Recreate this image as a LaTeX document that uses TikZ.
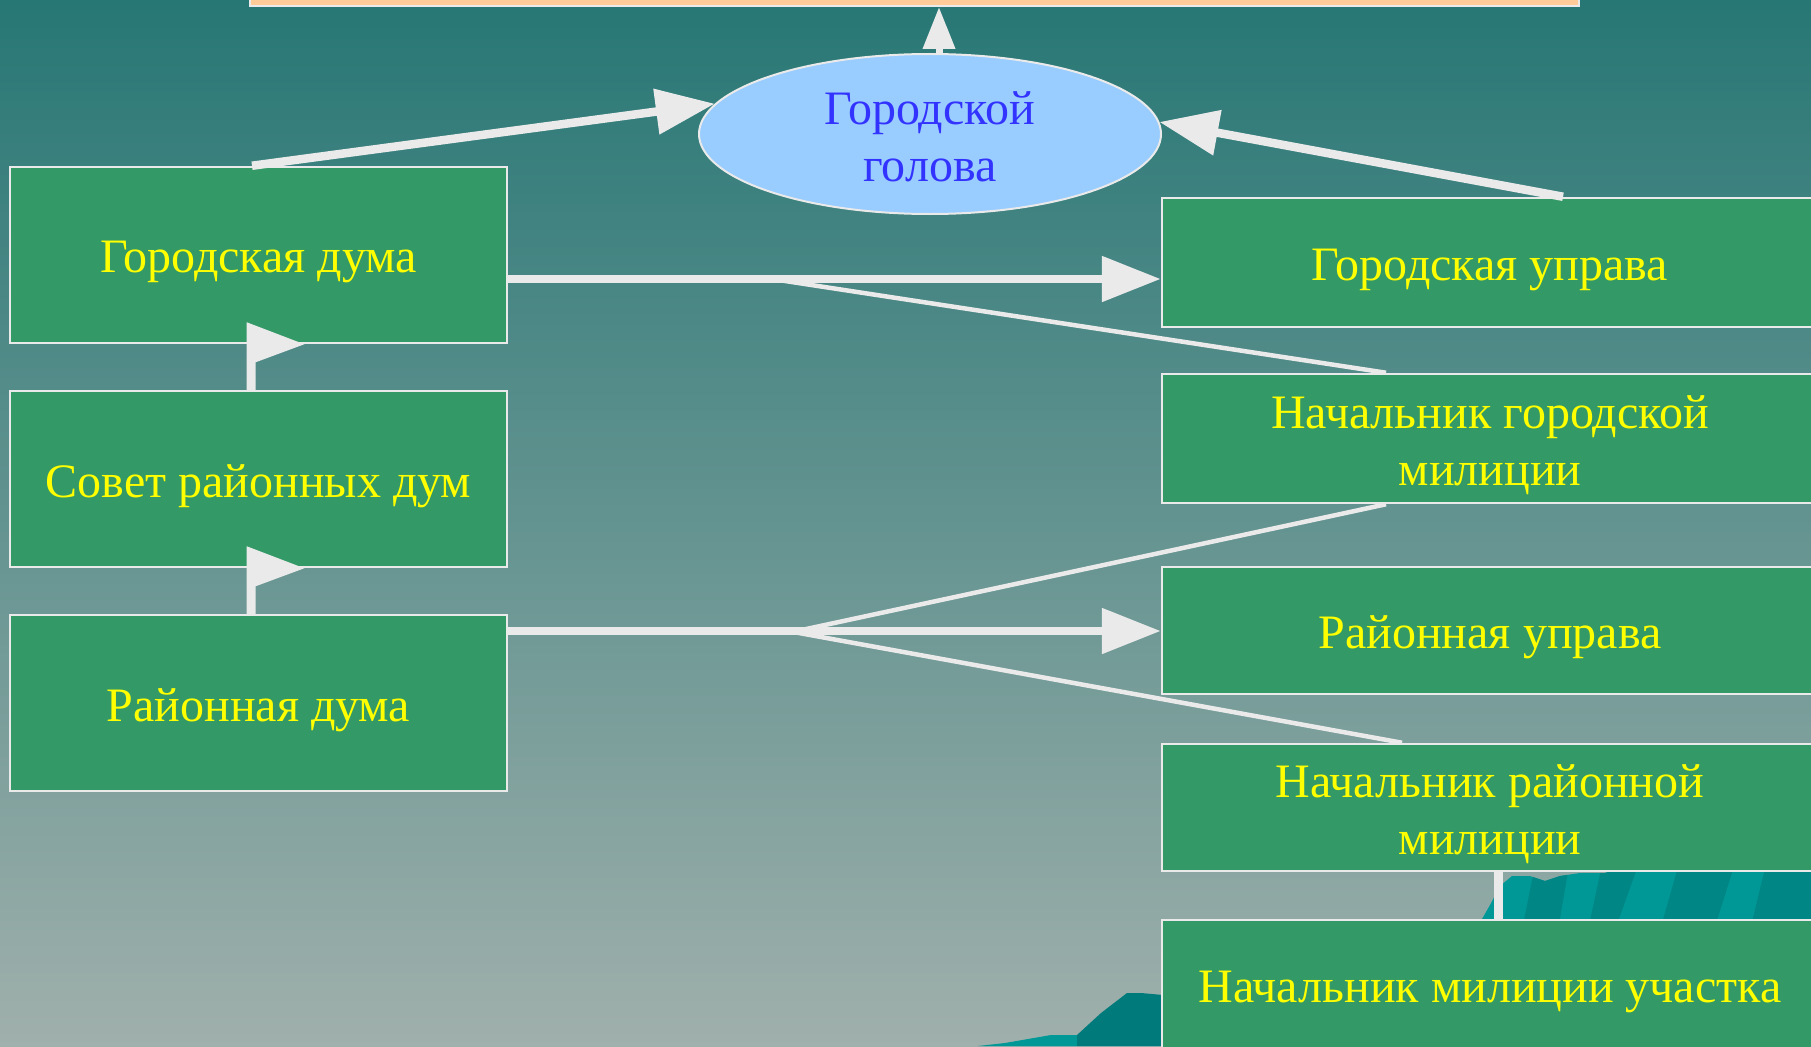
\documentclass[tikz,border=0pt]{standalone}
\usepackage{fontspec}
\setmainfont{Liberation Serif}
\usetikzlibrary{arrows.meta,calc,shapes.geometric}
\definecolor{bgtop}{RGB}{39,119,117}
\definecolor{bgbot}{RGB}{160,176,172}
\definecolor{boxgreen}{RGB}{51,153,102}
\definecolor{linegray}{RGB}{234,234,234}
\definecolor{skyblue}{RGB}{153,204,255}
\definecolor{headblue}{RGB}{51,51,255}
\definecolor{peach}{RGB}{255,204,153}
\definecolor{txtyellow}{RGB}{255,255,0}
\definecolor{teallight}{RGB}{0,152,150}
\definecolor{tealdark}{RGB}{0,134,132}
\definecolor{tealdeep}{RGB}{0,122,122}
\begin{document}
\begin{tikzpicture}[x=1pt,y=-1pt,
  orgbox/.style={draw=linegray, line width=2.5pt, fill=boxgreen, inner sep=0pt},
  boxtext/.style={text=txtyellow, font=\fontsize{48}{57}\selectfont, align=center,
    inner sep=0pt, yshift=-7pt},
  leftbox/.style={orgbox, minimum width=497pt, minimum height=176pt},
  rightbox/.style={orgbox, minimum width=656pt, minimum height=#1},
  headnode/.style={ellipse, draw=linegray, line width=2pt, fill=skyblue, text=headblue,
    font=\fontsize{48}{57}\selectfont, align=center, inner sep=0pt,
    minimum width=462pt, minimum height=160pt},
  barnode/.style={draw=linegray, line width=2pt, fill=peach, inner sep=0pt,
    minimum width=1329pt, minimum height=16pt},
  bigarrow/.style={draw=linegray, line width=8.5pt, -{Triangle[length=59pt,width=44pt]}},
  toparrow/.style={draw=linegray, line width=7pt, -{Triangle[length=42pt,width=31pt]}},
  thinline/.style={draw=linegray, line width=4.5pt},
  flag/.style={fill=linegray},
  vline/.style={draw=linegray, line width=9pt}
]
\useasboundingbox (0,0) rectangle (1811,1046);
\clip (0,0) rectangle (1811,1046);
% background
\shade[top color=bgtop, bottom color=bgbot] (0,0) rectangle (1811,1046);

% decorative teal shapes
\fill[teallight] (978,1046) -- (1005,1043) -- (1051,1035) -- (1077,1035) -- (1077,1046) -- cycle;
\fill[tealdeep] (1077,1035) -- (1101,1013) -- (1127,993) -- (1141,993) -- (1163,995) -- (1163,1046) -- (1077,1046) -- cycle;
\begin{scope}
  \clip (1482,919) -- (1490,905) -- (1500,886) -- (1512,876) -- (1530,876) -- (1545,881)
    -- (1560,876) -- (1580,873) -- (1605,873) -- (1612,871) -- (1811,871) -- (1811,919) -- cycle;
  \fill[teallight] (1470,860) rectangle (1811,930);
  \fill[tealdark] (1522,930) -- (1536,860) -- (1570,860) -- (1558,930) -- cycle;
  \fill[tealdark] (1588,930) -- (1603,860) -- (1640,860) -- (1615,930) -- cycle;
  \fill[tealdark] (1660,930) -- (1680,860) -- (1736,860) -- (1714,930) -- cycle;
  \fill[tealdark] (1750,930) -- (1767,860) -- (1820,860) -- (1820,930) -- cycle;
\end{scope}

% top bar
\node[barnode] (bar) at (914.5,-2) {};

% head
\node[headnode] (golova) at (930,134) {};
\node[text=headblue, font=\fontsize{48}{57}\selectfont, align=center, inner sep=0pt]
  (golovatext) at (930,137) {Городской\\голова};

% left column
\node[leftbox] (gduma) at (258.5,255) {};
\node[leftbox] (sovet) at (258.5,479) {};
\node[leftbox] (rduma) at (258.5,703) {};
\node[boxtext] (gdumat) at (gduma.center) {Городская дума};
\node[boxtext] (sovett) at (sovet.center) {Совет районных дум};
\node[boxtext] (rdumat) at (rduma.center) {Районная дума};

% right column
\node[rightbox=129pt] (gupr) at (1490,262.5) {};
\node[rightbox=129pt] (ngm) at (1490,438.5) {};
\node[rightbox=127pt] (rupr) at (1490,630.5) {};
\node[rightbox=127pt] (nrm) at (1490,807.5) {};
\node[rightbox=129pt] (nmu) at (1490,984.5) {};
\node[boxtext] (guprt) at (gupr.center) {Городская управа};
\node[boxtext] (ngmt) at (ngm.center) {Начальник городской\\милиции};
\node[boxtext] (ruprt) at (rupr.center) {Районная управа};
\node[boxtext] (nrmt) at (nrm.center) {Начальник районной\\милиции};
\node[boxtext] (nmut) at (nmu.center) {Начальник милиции участка};

% connectors
\coordinate (ga) at ($(golova.north)+(9,0)$);
\draw[toparrow] (ga) -- (ga |- bar.south);

\draw[bigarrow] ($(gduma.north)+(-6.5,0)$) -- (golova.172);
\draw[bigarrow] ($(gupr.north)+(73,0)$) -- (golova.3);

\coordinate (y1) at (0,279);
\coordinate (y2) at (0,631);
\coordinate (b1) at (772,279);
\coordinate (b2) at (797,631);
\coordinate (b3) at (788,631);
\draw[thinline] (b1) -- ($(ngm.north)+(-104,0)$);
\draw[thinline] (b2) -- ($(ngm.south)+(-104,0)$);
\draw[thinline] (b3) -- ($(nrm.north)+(-88,0)$);
\draw[bigarrow] (gduma.east |- y1) -- (gupr.west |- y1);
\draw[bigarrow] (rduma.east |- y2) -- (rupr.west |- y2);

% flag-style arrows between left boxes
\fill[flag] ($(sovet.north)+(-11.8,0)$) -- ($(gduma.south)+(-11.8,-22)$) -- ($(gduma.south)+(45.8,0)$)
  -- ($(gduma.south)+(-2.8,18)$) -- ($(sovet.north)+(-2.8,0)$) -- cycle;
\fill[flag] ($(rduma.north)+(-11.8,0)$) -- ($(sovet.south)+(-11.8,-22)$) -- ($(sovet.south)+(45.8,0)$)
  -- ($(sovet.south)+(-2.8,18)$) -- ($(rduma.north)+(-2.8,0)$) -- cycle;

% vertical connector on the right
\draw[vline] ($(nrm.south)+(8.5,0)$) -- ($(nmu.north)+(8.5,0)$);
\end{tikzpicture}
\end{document}
